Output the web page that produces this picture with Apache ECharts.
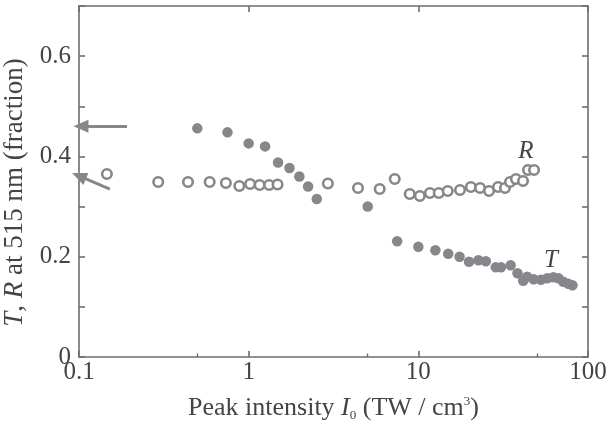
<!DOCTYPE html>
<html>
<head>
<meta charset="utf-8">
<script src="https://cdn.jsdelivr.net/npm/echarts@6/dist/echarts.min.js"></script>
<style>html,body{margin:0;padding:0;background:#fff}#c{width:606px;height:426px}</style>
</head>
<body>
<div id="c"></div>
<script>
// Reflectance R (open circles)
const rX = [0.146, 0.293, 0.439, 0.589, 0.734, 0.881, 1.02, 1.16, 1.32, 1.48, 2.93, 4.41, 5.92, 7.26, 8.9, 10.2, 11.7, 13.2, 14.9, 17.6, 20.4, 23.1, 26.1, 29.5, 32.4, 34.7, 37.6, 41.4, 44.3, 48.1];
const rY = [0.365, 0.349, 0.349, 0.349, 0.347, 0.341, 0.345, 0.343, 0.343, 0.344, 0.346, 0.337, 0.335, 0.355, 0.325, 0.321, 0.327, 0.327, 0.331, 0.333, 0.339, 0.337, 0.331, 0.339, 0.337, 0.349, 0.355, 0.351, 0.373, 0.373];
// Transmittance T (filled circles)
const tX = [0.498, 0.75, 1.00, 1.25, 1.49, 1.74, 1.99, 2.24, 2.52, 5.03, 7.5, 10.0, 12.6, 15.0, 17.5, 19.9, 22.6, 25.0, 28.6, 30.7, 35.0, 38.4, 41.5, 43.8, 47.8, 52.8, 57.5, 62.5, 67.0, 71.5, 76.5, 81.0];
const tY = [0.456, 0.448, 0.426, 0.420, 0.388, 0.377, 0.360, 0.340, 0.315, 0.300, 0.231, 0.220, 0.213, 0.206, 0.200, 0.190, 0.193, 0.191, 0.179, 0.179, 0.183, 0.167, 0.152, 0.160, 0.155, 0.154, 0.157, 0.159, 0.157, 0.150, 0.146, 0.143];
// axis ticks
const xMajor = [0.1, 1, 10, 100];
const xMinor = [0.5, 5, 50];
const yLabels = [0, 0.2, 0.4, 0.6];
// annotations (data space)
const arrowT = [[0.192, 0.46], [0.1027, 0.46]];
const arrowR = [[0.152, 0.335], [0.1, 0.361]];
const labelR = [43.1, 0.409];
const labelT = [60.5, 0.193];

const AX = '#6e6e72';
const TXT = '#444444';
const MARK = '#86878b';
const FONT = '"Liberation Serif", "Times New Roman", serif';
const FS = 25;

const chart = echarts.init(document.getElementById('c'), null, {renderer: 'canvas'});
const logAxisBase = {type: 'log', logBase: 10, min: 0.1, max: 100, splitLine: {show: false}, minorTick: {show: false}};
chart.setOption({
  animation: false,
  backgroundColor: '#fff',
  grid: {left: 79, right: 18, top: 6, bottom: 69, containLabel: false, outerBoundsMode: 'none'},
  xAxis: [
    Object.assign({}, logAxisBase, {
      position: 'bottom',
      axisLine: {show: true, lineStyle: {color: AX, width: 1.6}},
      axisTick: {show: true, inside: true, length: 6, lineStyle: {color: AX, width: 1.6}, customValues: xMajor},
      axisLabel: {customValues: xMajor, color: TXT, fontFamily: FONT, fontSize: FS, margin: 3,
        formatter: v => String(+v.toPrecision(3))},
      name: 'Peak intensity {i|I}{sub|0} (TW / cm{sup|3})',
      nameLocation: 'middle', nameGap: 38,
      nameTextStyle: {color: TXT, fontFamily: FONT, fontSize: 26, lineHeight: 27,
        rich: {
          i: {fontStyle: 'italic', fontFamily: FONT, fontSize: 26, color: TXT, lineHeight: 27},
          sub: {fontFamily: FONT, fontSize: 13, color: TXT, verticalAlign: 'bottom', lineHeight: 27},
          sup: {fontFamily: FONT, fontSize: 13, color: TXT, verticalAlign: 'top', lineHeight: 27}
        }}
    }),
    Object.assign({}, logAxisBase, {
      position: 'bottom',
      axisLine: {show: false},
      axisTick: {show: true, inside: true, length: 3.5, lineStyle: {color: AX, width: 1.4}, customValues: xMinor},
      axisLabel: {show: false}
    }),
    Object.assign({}, logAxisBase, {
      position: 'top',
      axisLine: {show: true, lineStyle: {color: AX, width: 1.6}},
      axisTick: {show: true, inside: true, length: 6, lineStyle: {color: AX, width: 1.6}, customValues: xMajor},
      axisLabel: {show: false}
    })
  ],
  yAxis: [
    {
      type: 'value', min: 0, max: 0.7, interval: 0.1, position: 'left',
      splitLine: {show: false},
      axisLine: {show: true, lineStyle: {color: AX, width: 1.6}},
      axisTick: {show: true, inside: true, length: 6, lineStyle: {color: AX, width: 1.6}},
      axisLabel: {customValues: yLabels, color: TXT, fontFamily: FONT, fontSize: FS, margin: 8,
        formatter: v => v === 0 ? '0' : v.toFixed(1)},
      name: '{i|T}, {i|R} at 515 nm (fraction)',
      nameLocation: 'middle', nameGap: 40, nameRotate: 90,
      nameTextStyle: {color: TXT, fontFamily: FONT, fontSize: 27, padding: [0, 22, 0, 0],
        rich: {i: {fontStyle: 'italic', fontFamily: FONT, fontSize: 27, color: TXT}}}
    },
    {
      type: 'value', min: 0, max: 0.7, interval: 0.1, position: 'right',
      splitLine: {show: false},
      axisLine: {show: true, lineStyle: {color: AX, width: 1.6}},
      axisTick: {show: true, inside: true, length: 6, lineStyle: {color: AX, width: 1.6}},
      axisLabel: {show: false}
    }
  ],
  series: [
    {
      type: 'scatter', name: 'R', xAxisIndex: 0, yAxisIndex: 0,
      data: rX.map((x, i) => [x, rY[i]]),
      symbol: 'circle', symbolSize: 9.5,
      itemStyle: {color: '#fff', borderColor: MARK, borderWidth: 2.6, opacity: 1},
      z: 3,
      markPoint: {
        symbol: 'circle', symbolSize: 0,
        label: {show: true, formatter: 'R', fontFamily: FONT, fontStyle: 'italic', fontSize: FS, color: TXT},
        data: [{coord: labelR}]
      },
      markLine: {
        silent: true, symbol: ['none', 'triangle'], symbolSize: [13, 15],
        lineStyle: {color: MARK, width: 3, type: 'solid'},
        label: {show: false},
        data: [
          [{coord: arrowT[0]}, {coord: arrowT[1]}],
          [{coord: arrowR[0]}, {coord: arrowR[1]}]
        ]
      }
    },
    {
      type: 'scatter', name: 'T', xAxisIndex: 0, yAxisIndex: 0,
      data: tX.map((x, i) => [x, tY[i]]),
      symbol: 'circle', symbolSize: 10.5,
      itemStyle: {color: MARK, opacity: 1},
      z: 2,
      markPoint: {
        symbol: 'circle', symbolSize: 0,
        label: {show: true, formatter: 'T', fontFamily: FONT, fontStyle: 'italic', fontSize: FS, color: TXT},
        data: [{coord: labelT}]
      }
    }
  ]
});
</script>
</body>
</html>
